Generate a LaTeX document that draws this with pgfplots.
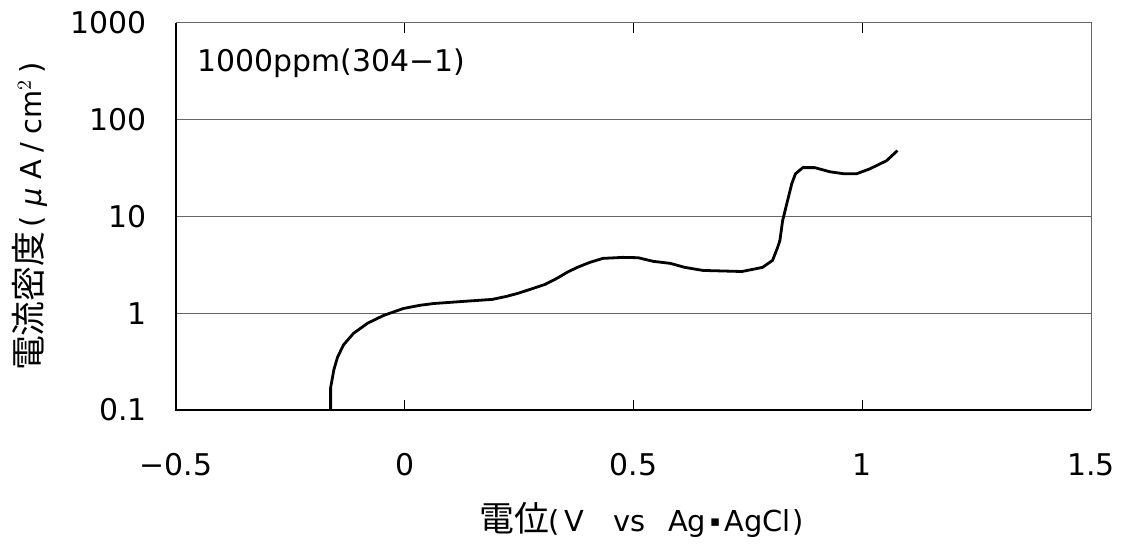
\documentclass[border=0pt]{standalone}
\usepackage{fontspec}
\setmainfont{DejaVu Sans}
\newfontfamily\cjk{Noto Sans CJK JP}
\usepackage{pgfplots}
\pgfplotsset{compat=1.18}

% polarisation curve, 1000ppm (304-1)
\pgfplotstableread{
E      i
-0.162 0.1
-0.162 0.17
-0.155 0.26
-0.147 0.35
-0.134 0.47
-0.112 0.62
-0.081 0.79
-0.046 0.95
-0.003 1.12
0.034  1.21
0.063  1.26
0.132  1.33
0.191  1.39
0.224  1.50
0.248  1.61
0.281  1.81
0.307  1.99
0.333  2.30
0.355  2.65
0.377  2.98
0.405  3.36
0.433  3.69
0.477  3.78
0.510  3.75
0.543  3.44
0.580  3.28
0.612  2.98
0.652  2.77
0.737  2.70
0.782  2.98
0.804  3.52
0.815  4.79
0.820  5.66
0.826  9.1
0.835  13.5
0.846  21.9
0.854  27.6
0.870  32
0.896  32
0.929  29
0.961  27.6
0.987  27.6
1.016  31
1.053  37.7
1.077  48
}\curve

\newcommand\lat[1]{{\fontsize{14.5}{15}\selectfont #1}}
\newcommand\jp[1]{{\cjk\fontsize{17.5}{18}\selectfont #1}}

\begin{document}
\begin{tikzpicture}
\begin{axis}[
  at={(88bp,69bp)}, anchor=south west,
  scale only axis, width=457.5bp, height=193.5bp,
  ymode=log, xmin=-0.5, xmax=1.5, ymin=0.1, ymax=1000,
  xtick={-0.5,0,0.5,1,1.5}, xticklabels={−0.5,0,0.5,1,1.5},
  ytick={0.1,1,10,100,1000}, yticklabels={0.1,1,10,100,1000},
  yminorticks=false,
  ytick style={draw=none},
  tick align=inside, major tick length=5bp,
  xtick style={black, line width=0.5bp},
  ymajorgrids, grid style={black!60, line width=0.5bp},
  axis line style={draw=none},
  ticklabel style={font=\fontsize{15}{16}\selectfont},
  xticklabel style={anchor=center, yshift=-27.5bp},
  yticklabel style={anchor=east, xshift=-11bp},
  xlabel={\jp{電位}\lat{(\kern2bp V\hspace{15bp}vs\hspace{11bp}Ag\kern2bp\raisebox{2.5bp}{\fontsize{7.5}{8}\selectfont ▪}\kern2bp AgCl\kern1bp)}},
  xlabel style={at={(axis description cs:0.5,0)}, anchor=center, yshift=-55bp, xshift=4bp},
  ylabel={\jp{電流密度}\lat{\kern2bp(\kern5bp{\itshape μ}\kern4bp A\kern4bp/\kern4bp cm$^2$\kern3bp)}},
  ylabel style={at={(axis description cs:-0.16,0.5)}, anchor=center},
  clip=false,
]
\draw[black!60, line width=0.5bp] (rel axis cs:0,1) -- (rel axis cs:1,1) -- (rel axis cs:1,0);
\draw[black, line width=1.1bp] (rel axis cs:0,1) -- (rel axis cs:0,0) -- (rel axis cs:1,0);
\addplot[black, line width=1.4bp, line join=round] table[x=E, y=i] {\curve};
\node[anchor=west, inner sep=0pt, font=\fontsize{15}{16}\selectfont]
  at ([xshift=10.5bp, yshift=-20bp]rel axis cs:0,1) {1000ppm(304−1)};
\end{axis}
\pgfresetboundingbox
\path (0,0) rectangle (569bp,274bp);
\end{tikzpicture}
\end{document}
